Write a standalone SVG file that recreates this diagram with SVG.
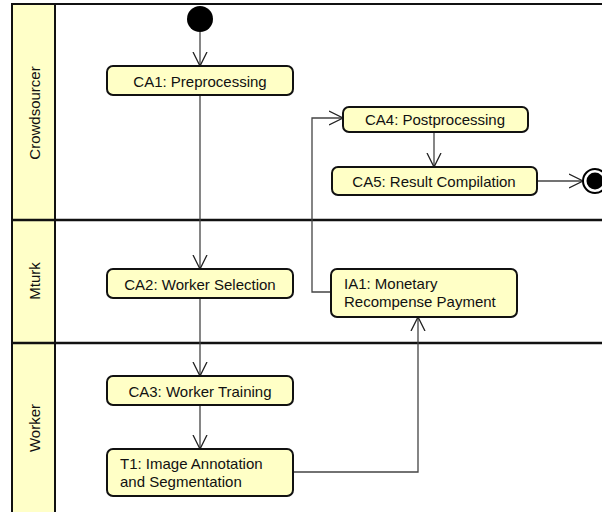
<svg xmlns="http://www.w3.org/2000/svg" width="602" height="512" viewBox="0 0 602 512">
<defs>
<style>
.lane{fill:#ffffc8;stroke:#111;stroke-width:2}
.frame{fill:#fff;stroke:#111;stroke-width:2}
.sep{stroke:#111;stroke-width:2.5;fill:none}
.act{fill:#ffffc6;stroke:#111;stroke-width:2}
.t{font-family:"Liberation Sans",Arial,sans-serif;font-size:15px;fill:#111}
.c{stroke:#444;stroke-width:1.3;fill:none}
</style>
<marker id="arr" viewBox="0 0 16 16" refX="14" refY="8" markerWidth="16" markerHeight="16" markerUnits="userSpaceOnUse" orient="auto">
<path d="M0,1 L14,8 L0,15" fill="none" stroke="#222" stroke-width="1.3"/>
</marker>
</defs>
<rect class="frame" x="12" y="4" width="600" height="520"/>
<g id="lane-crowdsourcer">
<rect class="lane" x="12" y="4" width="43" height="216"/>
<text class="t" transform="translate(40,113) rotate(-90)" text-anchor="middle">Crowdsourcer</text>
</g>
<g id="lane-mturk">
<rect class="lane" x="12" y="220" width="43" height="123"/>
<text class="t" transform="translate(40,281) rotate(-90)" text-anchor="middle">Mturk</text>
</g>
<g id="lane-worker">
<rect class="lane" x="12" y="343" width="43" height="180"/>
<text class="t" transform="translate(40,428) rotate(-90)" text-anchor="middle">Worker</text>
</g>
<line class="sep" x1="12" y1="220" x2="602" y2="220"/>
<line class="sep" x1="12" y1="343" x2="602" y2="343"/>
<g id="connectors">
<line class="c" x1="200" y1="32" x2="200" y2="66" marker-end="url(#arr)"/>
<line class="c" x1="200" y1="95" x2="200" y2="269" marker-end="url(#arr)"/>
<line class="c" x1="200" y1="298" x2="200" y2="376" marker-end="url(#arr)"/>
<line class="c" x1="200" y1="405" x2="200" y2="449" marker-end="url(#arr)"/>
<polyline class="c" points="293,472 418,472 418,317" marker-end="url(#arr)"/>
<polyline class="c" points="331,292 312,292 312,118 343,118" marker-end="url(#arr)"/>
<line class="c" x1="434" y1="131" x2="434" y2="167" marker-end="url(#arr)"/>
<line class="c" x1="537" y1="181" x2="583" y2="181" marker-end="url(#arr)"/>
</g>
<g id="initial">
<circle cx="200" cy="19" r="13" fill="#000"/>
</g>
<g id="final">
<circle cx="595" cy="181" r="12" fill="#fff" stroke="#000" stroke-width="2"/>
<circle cx="595" cy="181" r="8.5" fill="#000"/>
</g>
<g id="CA1">
<rect class="act" x="107" y="66" width="186" height="29" rx="6"/>
<text class="t" x="200" y="87" text-anchor="middle">CA1: Preprocessing</text>
</g>
<g id="CA2">
<rect class="act" x="107" y="269" width="186" height="29" rx="6"/>
<text class="t" x="200" y="290" text-anchor="middle">CA2: Worker Selection</text>
</g>
<g id="CA3">
<rect class="act" x="107" y="376" width="186" height="29" rx="6"/>
<text class="t" x="200" y="397" text-anchor="middle">CA3: Worker Training</text>
</g>
<g id="T1">
<rect class="act" x="107" y="449" width="186" height="47" rx="6"/>
<text class="t" x="120" y="469">T1: Image Annotation</text>
<text class="t" x="120" y="487">and Segmentation</text>
</g>
<g id="IA1">
<rect class="act" x="331" y="269" width="186" height="48" rx="6"/>
<text class="t" x="344" y="289">IA1: Monetary</text>
<text class="t" x="344" y="307">Recompense Payment</text>
</g>
<g id="CA4">
<rect class="act" x="343" y="107" width="185" height="25" rx="6"/>
<text class="t" x="435" y="125" text-anchor="middle">CA4: Postprocessing</text>
</g>
<g id="CA5">
<rect class="act" x="332" y="167" width="205" height="28" rx="6"/>
<text class="t" x="434" y="187" text-anchor="middle">CA5: Result Compilation</text>
</g>
</svg>
